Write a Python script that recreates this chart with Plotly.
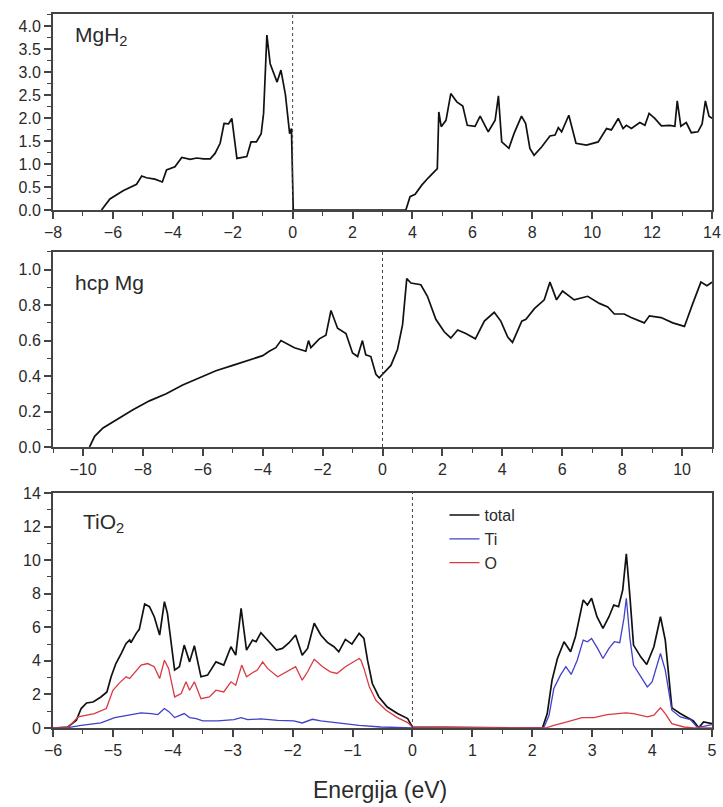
import plotly.graph_objects as go

# --- MgH2 total DOS ---
mgh2_e = [-6.38, -6.10, -5.66, -5.21, -5.04, -4.88, -4.60, -4.35, -4.21, -3.93, -3.70, -3.42,
          -3.20, -2.98, -2.75, -2.59, -2.42, -2.29, -2.14, -2.03, -1.86, -1.53, -1.39, -1.21,
          -1.05, -0.97, -0.86, -0.75, -0.52, -0.39, -0.24, -0.10, -0.04, 0.02,
          3.78, 3.92, 4.09, 4.31, 4.53, 4.83, 4.88, 4.96, 5.12, 5.28, 5.48, 5.68, 5.83, 6.09,
          6.26, 6.53, 6.76, 6.87, 6.98, 7.22, 7.39, 7.64, 7.78, 7.92, 8.06, 8.31, 8.59, 8.76,
          8.87, 8.98, 9.22, 9.46, 9.81, 10.20, 10.48, 10.64, 10.87, 11.03, 11.14, 11.31, 11.59,
          11.76, 11.90, 12.09, 12.31, 12.59, 12.76, 12.84, 12.96, 13.14, 13.31, 13.53, 13.67,
          13.78, 13.90, 14.0]
mgh2_dos = [0.0, 0.24, 0.42, 0.56, 0.74, 0.70, 0.67, 0.61, 0.87, 0.94, 1.14, 1.10,
            1.13, 1.11, 1.11, 1.23, 1.45, 1.88, 1.87, 1.99, 1.12, 1.16, 1.48, 1.48,
            1.66, 2.10, 3.80, 3.18, 2.78, 3.04, 2.50, 1.66, 1.77, 0.0,
            0.0, 0.29, 0.34, 0.54, 0.70, 0.90, 2.13, 1.81, 1.95, 2.53, 2.35, 2.26, 1.84, 1.82,
            2.04, 1.70, 1.95, 2.48, 1.48, 1.34, 1.66, 2.04, 1.88, 1.34, 1.19, 1.37, 1.61, 1.63,
            1.79, 1.70, 2.06, 1.45, 1.41, 1.48, 1.77, 1.74, 1.99, 1.77, 1.84, 1.77, 1.90,
            1.84, 2.10, 1.99, 1.83, 1.84, 1.82, 2.37, 1.82, 1.90, 1.68, 1.70, 1.87,
            2.37, 2.04, 1.99]

# --- hcp Mg total DOS ---
mg_e = [-9.78, -9.61, -9.33, -8.89, -8.33, -7.78, -7.22, -6.67, -6.11, -5.56, -5.00, -4.44,
        -4.00, -3.78, -3.56, -3.39, -3.17, -2.94, -2.56, -2.47, -2.39, -2.11, -1.89, -1.72,
        -1.50, -1.22, -1.00, -0.83, -0.67, -0.56, -0.39, -0.22, -0.11, 0.06, 0.28, 0.50,
        0.67, 0.81, 0.95, 1.28, 1.50, 1.78, 2.06, 2.28, 2.51, 2.78, 3.10, 3.40, 3.73, 3.95,
        4.18, 4.34, 4.65, 4.79, 5.07, 5.40, 5.59, 5.81, 6.01, 6.40, 6.85, 7.24, 7.52, 7.74,
        8.07, 8.30, 8.74, 8.91, 9.30, 9.69, 10.08, 10.36, 10.63, 10.83, 11.0]
mg_dos = [0.0, 0.06, 0.107, 0.154, 0.21, 0.26, 0.30, 0.35, 0.39, 0.43, 0.46, 0.49,
          0.515, 0.54, 0.56, 0.60, 0.58, 0.56, 0.54, 0.60, 0.56, 0.61, 0.63, 0.77,
          0.67, 0.64, 0.53, 0.51, 0.60, 0.52, 0.51, 0.41, 0.39, 0.42, 0.46, 0.55,
          0.69, 0.95, 0.925, 0.915, 0.85, 0.72, 0.65, 0.615, 0.66, 0.64, 0.61, 0.71, 0.76, 0.71,
          0.62, 0.59, 0.71, 0.72, 0.78, 0.83, 0.93, 0.83, 0.88, 0.83, 0.85, 0.81, 0.79, 0.75,
          0.75, 0.73, 0.70, 0.74, 0.73, 0.70, 0.68, 0.81, 0.93, 0.91, 0.93]

# --- TiO2 total and projected DOS ---
tio2_total_e = [-6.0, -5.75, -5.61, -5.53, -5.44, -5.33, -5.20, -5.10, -5.03, -4.95, -4.86,
                -4.78, -4.72, -4.70, -4.61, -4.56, -4.47, -4.39, -4.31, -4.22, -4.14, -4.09,
                -3.97, -3.89, -3.81, -3.72, -3.64, -3.53, -3.42, -3.28, -3.15, -3.03, -2.95,
                -2.86, -2.77, -2.67, -2.61, -2.53, -2.42, -2.27, -2.17, -2.06, -1.95, -1.84,
                -1.75, -1.64, -1.53, -1.42, -1.31, -1.23, -1.12, -1.01, -0.89, -0.81, -0.75,
                -0.67, -0.56, -0.42, -0.25, -0.08, 0.0,
                2.17, 2.25, 2.33, 2.42, 2.53, 2.64, 2.72, 2.85, 2.92, 2.99, 3.08, 3.18, 3.28,
                3.36, 3.44, 3.51, 3.57, 3.63, 3.69, 3.81, 3.91, 4.03, 4.14, 4.22, 4.33, 4.47,
                4.61, 4.69, 4.78, 4.86, 5.0]
tio2_total = [0.0, 0.06, 0.46, 1.16, 1.49, 1.55, 1.85, 2.15, 3.05, 3.84, 4.44,
              5.04, 5.24, 5.08, 5.64, 5.88, 7.39, 7.23, 6.63, 5.54, 7.53, 6.83,
              3.45, 3.65, 4.94, 3.94, 4.90, 3.05, 3.15, 3.94, 3.75, 4.84, 4.34,
              7.13, 4.64, 5.24, 5.14, 5.68, 5.24, 4.64, 4.74, 5.08, 5.54, 4.34,
              4.74, 6.24, 5.54, 5.10, 4.84, 4.54, 5.28, 5.00, 5.64, 5.34, 4.04,
              2.65, 1.85, 1.25, 0.86, 0.56, 0.05,
              0.0, 0.86, 2.85, 4.14, 5.14, 4.54, 5.44, 7.63, 7.33, 7.73, 6.63, 5.94, 6.63,
              7.33, 7.23, 8.23, 10.38, 7.83, 4.94, 4.24, 3.78, 4.84, 6.63, 5.24, 1.20, 0.86,
              0.56, 0.42, 0.02, 0.36, 0.26]

tio2_ti_e = [-6.0, -5.75, -5.53, -5.20, -4.97, -4.75, -4.53, -4.36, -4.25, -4.14, -4.06,
             -3.97, -3.89, -3.81, -3.72, -3.61, -3.50, -3.25, -2.98, -2.86, -2.75, -2.53,
             -2.25, -1.98, -1.84, -1.67, -1.53, -1.31, -1.09, -0.89, -0.53, 0.0,
             2.19, 2.28, 2.36, 2.47, 2.56, 2.65, 2.75, 2.85, 2.92, 2.99, 3.09, 3.18, 3.28,
             3.37, 3.46, 3.53, 3.57, 3.63, 3.69, 3.81, 3.92, 4.00, 4.14, 4.22, 4.33, 4.47,
             4.64, 4.75, 4.86, 5.0]
tio2_ti = [0.0, 0.02, 0.16, 0.30, 0.62, 0.76, 0.90, 0.86, 0.80, 1.16, 0.96,
           0.62, 0.72, 0.86, 0.62, 0.56, 0.42, 0.42, 0.50, 0.62, 0.50, 0.54,
           0.46, 0.42, 0.30, 0.52, 0.42, 0.32, 0.22, 0.16, 0.06, 0.0,
           0.0, 0.76, 2.35, 3.15, 3.65, 3.19, 4.04, 5.24, 5.14, 5.34, 4.74, 4.14, 4.74,
           5.14, 5.08, 6.53, 7.73, 5.34, 3.75, 3.05, 2.45, 2.75, 4.44, 3.45, 1.06, 0.66,
           0.50, 0.06, 0.10, 0.20]

tio2_o_e = [-6.0, -5.75, -5.58, -5.47, -5.31, -5.11, -5.00, -4.89, -4.78, -4.72, -4.64,
            -4.53, -4.42, -4.31, -4.22, -4.14, -4.07, -3.97, -3.86, -3.78, -3.72, -3.64,
            -3.53, -3.39, -3.28, -3.15, -3.03, -2.95, -2.85, -2.77, -2.67, -2.59, -2.50,
            -2.42, -2.25, -2.09, -1.95, -1.84, -1.75, -1.64, -1.50, -1.37, -1.26, -1.12,
            -0.98, -0.89, -0.86, -0.81, -0.72, -0.61, -0.44, -0.25, -0.08, 0.0,
            2.22, 2.36, 2.58, 2.83, 3.03, 3.25, 3.56, 3.69, 3.92, 4.03, 4.14, 4.22, 4.33,
            4.53, 4.69, 5.0]
tio2_o = [0.0, 0.02, 0.66, 0.76, 0.86, 1.16, 2.25, 2.69, 3.05, 2.95, 3.29,
          3.75, 3.84, 3.65, 2.95, 4.04, 3.55, 1.85, 2.05, 2.75, 2.25, 2.75,
          1.75, 1.85, 2.25, 2.15, 2.75, 2.55, 3.75, 3.05, 3.29, 3.45, 3.94,
          3.55, 3.05, 3.35, 3.65, 2.85, 3.35, 4.10, 3.65, 3.35, 3.25, 3.65,
          3.94, 4.14, 4.04, 3.55, 2.45, 1.65, 1.06, 0.62, 0.32, 0.05,
          0.0, 0.16, 0.36, 0.62, 0.62, 0.80, 0.90, 0.86, 0.66, 0.76, 1.20, 0.86, 0.26,
          0.06, 0.0, 0.0]

panel_labels = ["MgH<sub>2</sub>", "hcp Mg", "TiO<sub>2</sub>"]
x_title = "Energija (eV)"

FONT = "Liberation Sans, Arial, sans-serif"
AXIS_COLOR = "#444444"
TEXT_COLOR = "#2a2a2a"

fig = go.Figure()

fig.add_trace(go.Scatter(x=mgh2_e, y=mgh2_dos, mode="lines", xaxis="x", yaxis="y",
                         line=dict(color="#111111", width=1.7), showlegend=False))
fig.add_trace(go.Scatter(x=mg_e, y=mg_dos, mode="lines", xaxis="x2", yaxis="y2",
                         line=dict(color="#111111", width=1.7), showlegend=False))
fig.add_trace(go.Scatter(x=tio2_total_e, y=tio2_total, mode="lines", xaxis="x3", yaxis="y3",
                         name="total", line=dict(color="#111111", width=1.7)))
fig.add_trace(go.Scatter(x=tio2_ti_e, y=tio2_ti, mode="lines", xaxis="x3", yaxis="y3",
                         name="Ti", line=dict(color="#4040c8", width=1.3)))
fig.add_trace(go.Scatter(x=tio2_o_e, y=tio2_o, mode="lines", xaxis="x3", yaxis="y3",
                         name="O", line=dict(color="#d83a44", width=1.3)))


def common_axis(rng, dtick, minor):
    return dict(range=rng, dtick=dtick, tick0=0,
                showgrid=False, zeroline=False, showline=True, mirror=True,
                linecolor=AXIS_COLOR, linewidth=2, ticks="outside", ticklen=7,
                tickwidth=1.5, tickcolor=AXIS_COLOR,
                minor=dict(dtick=minor, ticks="outside", ticklen=4, tickwidth=1.2,
                           tickcolor=AXIS_COLOR),
                tickfont=dict(family=FONT, size=16, color=TEXT_COLOR))


def xaxis(rng, dtick, minor, anchor):
    ax = common_axis(rng, dtick, minor)
    ax.update(anchor=anchor, domain=[0, 1])
    return ax


def yaxis(rng, dtick, minor, anchor, domain, fmt):
    ax = common_axis(rng, dtick, minor)
    ax.update(anchor=anchor, domain=domain, tickformat=fmt)
    return ax


fig.update_layout(
    width=723, height=807, autosize=False,
    margin=dict(l=53, r=11, t=14, b=79, autoexpand=False),
    paper_bgcolor="white", plot_bgcolor="white",
    font=dict(family=FONT, color=TEXT_COLOR),
    xaxis=xaxis([-8, 14], 2, 1, "y"),
    yaxis=yaxis([0, 4.26], 0.5, 0.25, "x", [0.7255, 1.0], ".1f"),
    xaxis2=xaxis([-11, 11], 2, 1, "y2"),
    yaxis2=yaxis([0, 1.1], 0.2, 0.1, "x2", [0.3936, 0.6667], ".1f"),
    xaxis3=xaxis([-6, 5], 1, 0.5, "y3"),
    yaxis3=yaxis([0, 14], 2, 1, "x3", [0, 0.3291], "d"),
    legend=dict(x=0.594, y=0.322, xanchor="left", yanchor="top",
                bgcolor="rgba(0,0,0,0)", font=dict(family=FONT, size=16, color=TEXT_COLOR),
                tracegroupgap=0, itemwidth=30),
    showlegend=True,
)

# Fermi level markers
for xr, yr in (("x", "y"), ("x2", "y2"), ("x3", "y3")):
    fig.add_shape(type="line", xref=xr, yref=f"{yr} domain", x0=0, x1=0, y0=0, y1=1,
                  line=dict(color="#444444", width=1, dash="dot"))

# Panel labels
label_pos = [("x domain", "y domain", 0.030, 0.89),
             ("x2 domain", "y2 domain", 0.030, 0.846),
             ("x3 domain", "y3 domain", 0.042, 0.872)]
for text, (xr, yr, px, py) in zip(panel_labels, label_pos):
    fig.add_annotation(text=text, xref=xr, yref=yr, x=px, y=py, xanchor="left",
                       yanchor="middle", showarrow=False,
                       font=dict(family=FONT, size=21, color=TEXT_COLOR))

fig.add_annotation(text=x_title, xref="paper", yref="paper", x=0.496, y=-0.087,
                   xanchor="center", yanchor="middle", showarrow=False,
                   font=dict(family=FONT, size=23, color=TEXT_COLOR))

fig.write_html("out.html", config={"responsive": False})
